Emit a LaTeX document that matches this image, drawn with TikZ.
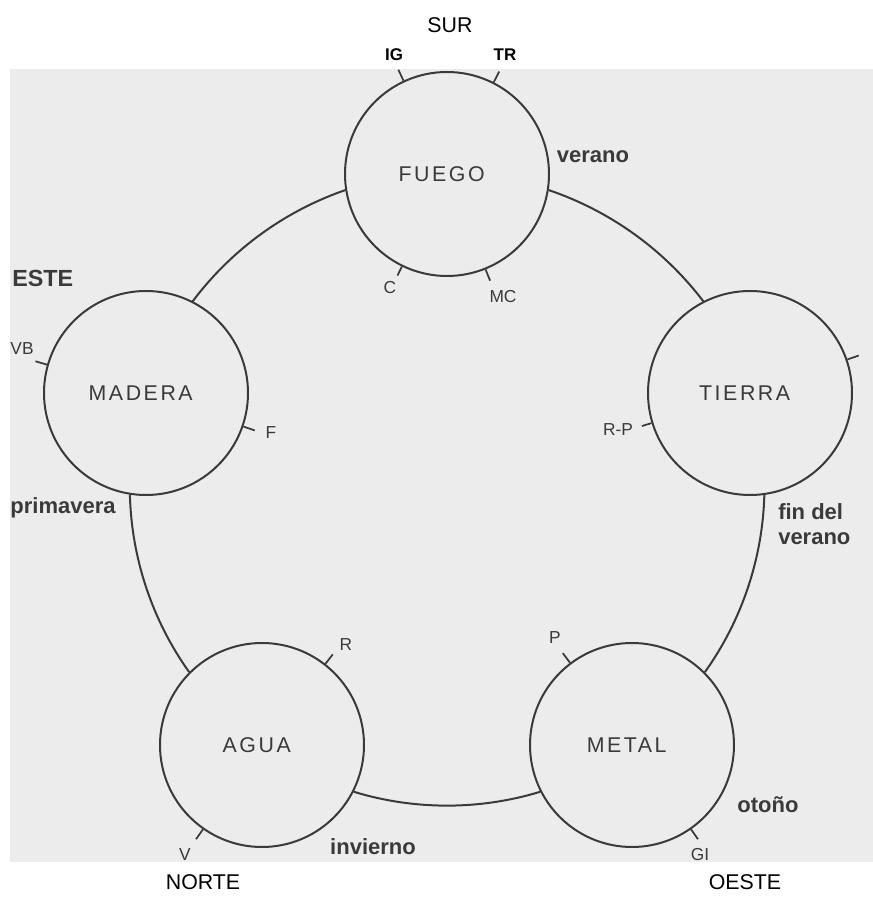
\documentclass[tikz,border=0pt]{standalone}
\usepackage{fontspec}
\setmainfont{Liberation Sans}
\newfontfamily\elemfont[LetterSpace=12]{Liberation Sans}
\usetikzlibrary{positioning}

\definecolor{paper}{HTML}{ECECEC}
\definecolor{ink}{HTML}{3A3A3A}

\begin{document}
\begin{tikzpicture}[
    x=0.75pt, y=0.75pt,
    element/.style={circle, draw=ink, line width=1.5pt, minimum size=153pt, inner sep=0pt,
        text=ink, font=\elemfont\fontsize{16}{19}\selectfont,
        execute at end node={\hspace{8pt}}},
    link/.style={draw=ink, line width=1.5pt, bend left=17, looseness=0.87},
    spur/.style={draw=ink, line width=1.3pt},
    organ/.style={text=ink, inner sep=0pt, font=\fontsize{13}{15}\selectfont},
    season/.style={text=ink, inner sep=0pt, font=\bfseries\fontsize{16.5}{19}\selectfont},
    point/.style={inner sep=0pt, font=\fontsize{16}{19}\selectfont}
]

    % Page and scanned area
    \useasboundingbox (0,0) rectangle (873,910);
    \fill[paper] (10,48) rectangle (873,841);

    % Elements
    \node[element] (fuego)  at (447,736) {FUEGO};
    \node[element] (madera) at (146,517) {MADERA};
    \node[element] (tierra) at (750,517) {TIERRA};
    \node[element] (agua)   at (262,165) {AGUA};
    \node[element] (metal)  at (632,165) {METAL};

    % Cycle (arcs of one large circle)
    \draw[link] (fuego.351)  to (tierra.117);
    \draw[link] (tierra.278) to (metal.45);
    \draw[link] (metal.207)  to (agua.333);
    \draw[link] (agua.135)   to (madera.261);
    \draw[link] (madera.63)  to (fuego.189);

    % Meridian marks
    \draw[spur] (fuego.115)  -- ++(115:12);
    \draw[spur] (fuego.63)   -- ++(63:12);
    \draw[spur] (fuego.244)  -- ++(244:10);
    \draw[spur] (fuego.292)  -- ++(292:12);
    \draw[spur] (madera.164) -- ++(164:12);
    \draw[spur] (madera.341) -- ++(341:12);
    \draw[spur] (tierra.197) -- ++(197:10);
    \draw[spur] (tierra.19)  -- ++(19:12);
    \draw[spur] (agua.52)    -- ++(52:12);
    \draw[spur] (agua.235)   -- ++(235:12);
    \draw[spur] (metal.127)  -- ++(127:12);
    \draw[spur] (metal.305)  -- ++(305:12);

    % Meridian names
    \node[organ, text=black, font=\bfseries\fontsize{12.7}{15}\selectfont] (ig) at (394,855) {IG};
    \node[organ, text=black, font=\bfseries\fontsize{12.7}{15}\selectfont] (tr) at (505,855) {TR};
    \node[organ] (c)  at (390,622) {C};
    \node[organ] (mc) at (503,613) {MC};
    \node[organ] (vb) at (22,561)  {VB};
    \node[organ] (f)  at (271,477) {F};
    \node[organ] (rp) at (618,480) {R-P};
    \node[organ] (r)  at (346,265) {R};
    \node[organ] (p)  at (555,272) {P};
    \node[organ, anchor=base] (v)  at (185,49) {V};
    \node[organ, anchor=base] (gi) at (700,49) {GI};

    % Seasons
    \node[season] (verano)    at (593,753) {verano};
    \node[season] (primavera) at (63,402)  {primavera};
    \node[season, align=left, anchor=west] (finverano) at (778,386) {fin del\\verano};
    \node[season] (otono)     at (768,105) {otoño};
    \node[season, anchor=base] (invierno) at (373,55) {invierno};

    % Cardinal points
    \node[point] (sur)   at (450,885) {SUR};
    \node[point, text=ink, anchor=west, font=\bfseries\fontsize{17.5}{20}\selectfont] (este) at (12,632) {ESTE};
    \node[point] (norte) at (203,28)  {NORTE};
    \node[point] (oeste) at (745,28)  {OESTE};

\end{tikzpicture}
\end{document}
